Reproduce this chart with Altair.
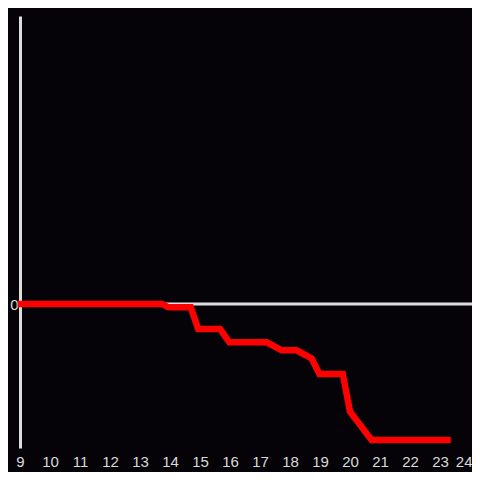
import altair as alt
import pandas as pd

# series
hours = [8.92, 13.74, 13.94, 14.69, 14.94, 15.67, 15.98, 17.23, 17.72, 18.22,
         18.72, 18.98, 19.76, 20.0, 20.72, 23.36]
values = [0.0, 0.0, -0.023, -0.023, -0.174, -0.174, -0.266, -0.266, -0.322, -0.322,
          -0.377, -0.486, -0.486, -0.748, -0.944, -0.944]
x_ticks = list(range(9, 25))
y_ticks = [0]

df = pd.DataFrame({"x": hours, "y": values})

BG = "#050307"
AXIS = "#dddddd"
LABEL = "#dadada"

xs = alt.Scale(domain=[9, 24.067], nice=False, zero=False)
ys = alt.Scale(domain=[-1, 2], nice=False, zero=False)

x_axis = alt.Axis(values=x_ticks, domain=False, ticks=False, grid=False,
                  labelColor=LABEL, labelFontSize=15, labelPadding=6,
                  labelFont="Liberation Sans", labelFlush=False, format="d",
                  labelAlign={"condition": {"test": "datum.value == 24", "value": "right"},
                              "value": "center"},
                  labelOffset={"condition": {"test": "datum.value == 24", "value": 2},
                               "value": 0})
y_axis = alt.Axis(values=y_ticks, domain=True, domainColor=AXIS, domainWidth=3,
                  ticks=False, grid=False, labelColor=LABEL, labelFontSize=15,
                  labelPadding=2, labelFont="Liberation Sans", format="d")

zero_rule = alt.Chart(pd.DataFrame({"y": [0]})).mark_rule(
    color=AXIS, strokeWidth=3
).encode(y=alt.Y("y:Q", scale=ys, title=None, axis=y_axis))

line = alt.Chart(df).mark_line(
    color="#ff0000", strokeWidth=6.5, strokeJoin="miter", strokeCap="butt", clip=False
).encode(
    x=alt.X("x:Q", scale=xs, title=None, axis=x_axis),
    y=alt.Y("y:Q", scale=ys, title=None, axis=y_axis),
)

chart = alt.layer(zero_rule, line).properties(
    width=452, height=432,
    autosize=alt.AutoSizeParams(type="none"),
    padding={"left": 12, "top": 8, "right": 0, "bottom": 24},
    background=BG,
).configure_view(stroke=None, fill=BG)

chart.save("out.html", embed_options={"renderer": "svg", "actions": False})
